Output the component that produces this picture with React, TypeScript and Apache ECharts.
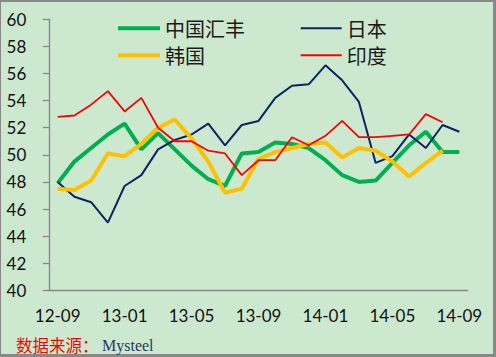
import React, { useEffect, useRef } from "react";
import * as echarts from "echarts";

const months = [
  "12-09", "12-10", "12-11", "12-12", "13-01", "13-02", "13-03", "13-04", "13-05",
  "13-06", "13-07", "13-08", "13-09", "13-10", "13-11", "13-12", "14-01", "14-02",
  "14-03", "14-04", "14-05", "14-06", "14-07", "14-08", "14-09",
];
const china = [47.9, 49.5, 50.5, 51.5, 52.3, 50.4, 51.6, 50.4, 49.2, 48.2, 47.7, 50.1, 50.2, 50.9, 50.8, 50.5, 49.6, 48.5, 48.0, 48.1, 49.4, 50.7, 51.7, 50.2, 50.2];
const japan = [48.0, 46.9, 46.5, 45.0, 47.7, 48.5, 50.4, 51.1, 51.5, 52.3, 50.7, 52.2, 52.5, 54.2, 55.1, 55.2, 56.6, 55.5, 53.9, 49.4, 49.9, 51.5, 50.5, 52.2, 51.7];
const korea = [47.5, 47.4, 48.1, 50.1, 49.9, 50.8, 52.0, 52.6, 51.2, 49.5, 47.2, 47.5, 49.7, 50.2, 50.5, 50.8, 50.9, 49.8, 50.5, 50.3, 49.5, 48.4, 49.4, 50.3, null];
const india = [52.8, 52.9, 53.7, 54.7, 53.2, 54.2, 52.0, 51.0, 51.0, 50.3, 50.1, 48.5, 49.6, 49.6, 51.3, 50.7, 51.4, 52.5, 51.3, 51.3, 51.4, 51.5, 53.0, 52.4, null];
const seriesNames = ["中国汇丰", "日本", "韩国", "印度"];
const seriesColors = ["#00B050", "#0A2463", "#FFC000", "#FF0000"];
const seriesWidths = [4, 2, 4, 1.8];

export default function App() {
  const ref = useRef<HTMLDivElement>(null);
  useEffect(() => {
    document.body.style.margin = "0";
    if (!ref.current) return;
    const chart = echarts.init(ref.current, null, { renderer: "svg" });
    const legendText = { fontSize: 20, color: "#1a1a1a", fontFamily: "Noto Sans CJK SC", lineHeight: 20 };
    const legendPos = [
      { left: 113, top: 13.3, w: 42 },
      { left: 295.7, top: 13.3, w: 41 },
      { left: 113, top: 40.3, w: 42 },
      { left: 295.7, top: 40.3, w: 41 },
    ];
    const datasets = [china, japan, korea, india];
    chart.setOption({
      animation: false,
      backgroundColor: "#CCE8CF",
      grid: { left: 49.3, right: 28.3, top: 19.3, bottom: 66.7, containLabel: false },
      legend: seriesNames.map((n, i) => ({
        data: [n],
        left: legendPos[i].left,
        top: legendPos[i].top,
        icon: "rect",
        itemWidth: legendPos[i].w,
        itemHeight: seriesWidths[i] > 3 ? 4 : 2,
        textStyle: legendText,
      })),
      xAxis: {
        type: "category",
        data: months,
        boundaryGap: true,
        axisLine: { lineStyle: { color: "#868686", width: 1.3 } },
        axisTick: { interval: 3, length: 6.5, lineStyle: { color: "#868686", width: 1.3 } },
        axisLabel: { interval: 3, margin: 17, fontSize: 17, color: "#111", fontFamily: "Lato" },
        splitLine: { show: false },
      },
      yAxis: {
        type: "value",
        min: 40,
        max: 60,
        interval: 2,
        axisLine: { show: true, lineStyle: { color: "#868686", width: 1.3 } },
        axisTick: { show: true, length: 6.5, lineStyle: { color: "#868686", width: 1.3 } },
        axisLabel: { margin: 23, fontSize: 17, color: "#111", fontFamily: "Lato" },
        splitLine: { show: false },
      },
      series: seriesNames.map((n, i) => ({
        name: n,
        type: "line",
        data: datasets[i],
        symbol: "none",
        lineStyle: { color: seriesColors[i], width: seriesWidths[i] },
        itemStyle: { color: seriesColors[i] },
      })),
      graphic: [
        { type: "rect", z: 100, shape: { x: 466.9, y: 291, width: 3, height: 7 }, style: { fill: "#CCE8CF" } },
        { type: "rect", shape: { x: 0, y: 0, width: 496, height: 2 }, style: { fill: "#888" } },
        { type: "rect", shape: { x: 0, y: 0, width: 1, height: 357 }, style: { fill: "#888" } },
        { type: "rect", shape: { x: 493, y: 0, width: 3, height: 357 }, style: { fill: "#888" } },
        { type: "rect", shape: { x: 0, y: 354, width: 496, height: 3 }, style: { fill: "#888" } },
        { type: "text", x: 16, y: 345, style: { text: "数据来源：", fill: "#FF0000", fontSize: 16.5, fontFamily: "Noto Sans CJK SC", verticalAlign: "middle" } },
        { type: "text", x: 102, y: 345, style: { text: "Mysteel", fill: "#1F3864", fontSize: 16, fontFamily: "Liberation Serif", verticalAlign: "middle" } },
      ],
    });
    return () => chart.dispose();
  }, []);
  return <div ref={ref} style={{ width: 496, height: 357, position: "absolute", left: 0, top: 0 }} />;
}
